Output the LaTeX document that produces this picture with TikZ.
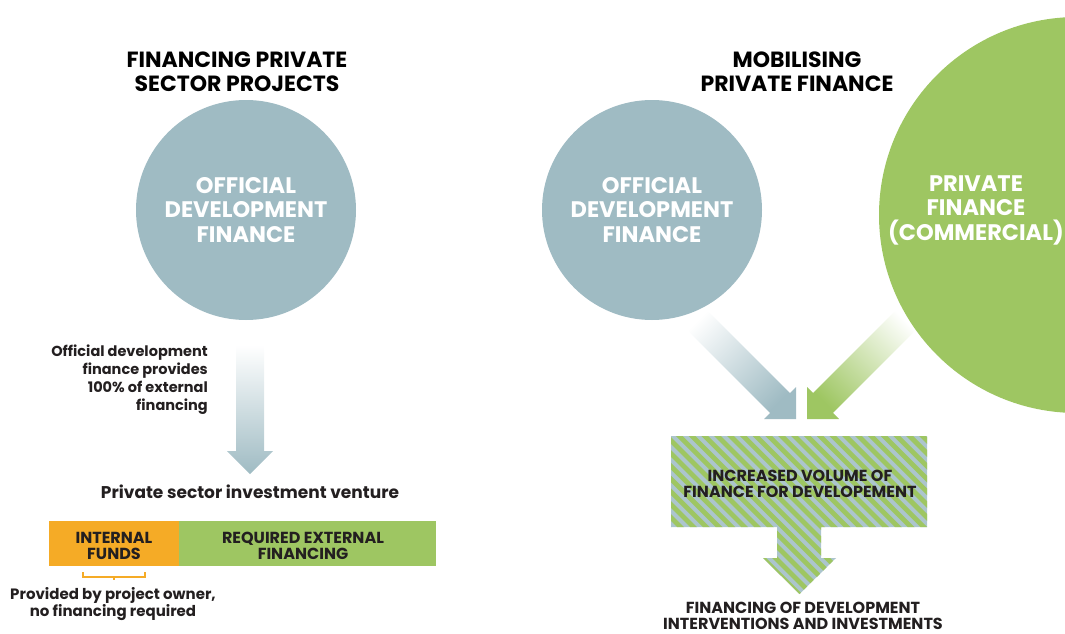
\documentclass[tikz,border=0pt]{standalone}
\usepackage{fontspec}
\setmainfont{Poppins}
\definecolor{odf}{RGB}{159,187,195}
\definecolor{pgreen}{RGB}{158,198,98}
\definecolor{porange}{RGB}{245,171,38}
\definecolor{hblue}{RGB}{172,197,205}
\definecolor{txt}{RGB}{35,31,32}
\pgfdeclarehorizontalshading{bluefade}{100bp}{color(0bp)=(white); color(25bp)=(white); color(75bp)=(odf); color(100bp)=(odf)}
\pgfdeclarehorizontalshading{greenfade}{100bp}{color(0bp)=(white); color(25bp)=(white); color(75bp)=(pgreen); color(100bp)=(pgreen)}
\tikzset{
  titletxt/.style={align=center, text=black, font=\fontsize{22}{24}\selectfont\bfseries, inner sep=0},
  circtxt/.style={align=center, text=white, inner sep=0, font=\fontsize{22.5}{24.5}\selectfont\bfseries},
  bigcirc/.style={circle, fill=odf, inner sep=0, minimum size=220pt, circtxt},
  lbl/.style={text=txt, inner sep=0, font=\fontsize{14.5}{18}\selectfont\bfseries},
  boxtxt/.style={text=txt, inner sep=0, align=center, font=\fontsize{16}{16.5}\selectfont\bfseries},
}
\begin{document}
\begin{tikzpicture}[x=1pt,y=-1pt]
\useasboundingbox (0,0) rectangle (1065,634);
% ---------- left side ----------
\node[titletxt] (t1) at (237,72) {FINANCING PRIVATE\\SECTOR PROJECTS};
% vertical fading arrow
\shade[shading=bluefade, shading angle=-90]
  (236,345) -- (264,345) -- (264,451) -- (273,451) -- (250,474) -- (227,451) -- (236,451) -- cycle;
\node[bigcirc] (odfL) at (246,210) {OFFICIAL\\DEVELOPMENT\\FINANCE};
\node[lbl, align=right, anchor=east] (note) at (208,380) {Official development\\finance provides\\100\% of external\\financing};
\node[text=txt, inner sep=0, font=\fontsize{17}{18}\selectfont\bfseries] (venture) at (250,492) {Private sector investment venture};
\fill[porange] (49,521) rectangle (179,566);
\fill[pgreen] (179,521) rectangle (436,566);
\node[boxtxt] (internal) at (114,546) {INTERNAL\\FUNDS};
\node[boxtxt] (external) at (303,546) {REQUIRED EXTERNAL\\FINANCING};
\draw[porange, line width=1.4pt] (83,572) -- (83,577) -- (145,577) -- (145,572);
\draw[porange, line width=1.4pt] (114,577) -- (114,580);
\node[lbl, align=center, font=\fontsize{15}{17}\selectfont\bfseries] (owner) at (113,604) {Provided by project owner,\\no financing required};
% ---------- right side ----------
\node[titletxt] (t2) at (797,72) {MOBILISING\\PRIVATE FINANCE};
% diagonal arrows
\shade[shading=bluefade, shading angle=-45]
  (699.9,303.1) -- (789.9,393.1) -- (796,387) -- (796,419) -- (764,419) -- (770.1,412.9) -- (680.1,322.9) -- cycle;
\shade[shading=greenfade, shading angle=-135]
  (903.1,303.1) -- (813.1,393.1) -- (807,387) -- (807,419) -- (839,419) -- (832.9,412.9) -- (922.9,322.9) -- cycle;
\node[bigcirc] (odfR) at (652,210) {OFFICIAL\\DEVELOPMENT\\FINANCE};
\node[circle, fill=pgreen, inner sep=0, minimum size=396pt] (pf) at (1077,215) {};
\node[circtxt] (pftext) at (976,210) {PRIVATE\\FINANCE\\(COMMERCIAL)};
% hatched box with arrow
\fill[hblue] (671,436) -- (927,436) -- (927,527) -- (821,527) -- (821,558) -- (836,558) -- (799.5,594) -- (763,558) -- (777,558) -- (777,527) -- (671,527) -- cycle;
\begin{scope}
\clip (671,436) -- (927,436) -- (927,527) -- (821,527) -- (821,558) -- (836,558) -- (799.5,594) -- (763,558) -- (777,558) -- (777,527) -- (671,527) -- cycle;
\foreach \k in {0,...,50} {
  \draw[pgreen, line width=4.8pt] ({420+12.8*\k},420) -- ({420+12.8*\k+200},620);
}
\end{scope}
\node[boxtxt] (vol) at (800,484) {INCREASED VOLUME OF\\FINANCE FOR DEVELOPEMENT};
\node[boxtxt] (interv) at (803,616) {FINANCING OF DEVELOPMENT\\INTERVENTIONS AND INVESTMENTS};
\end{tikzpicture}
\end{document}
